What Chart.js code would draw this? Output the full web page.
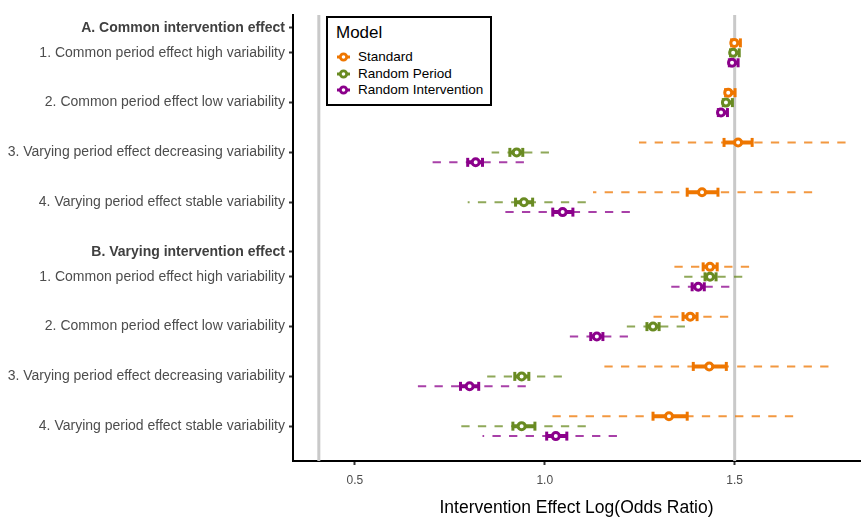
<!DOCTYPE html>
<html>
<head>
<meta charset="utf-8">
<script src="https://cdn.jsdelivr.net/npm/chart.js@4/dist/chart.umd.min.js"></script>
<style>
  body { margin: 0; background: #fff; }
  #wrap { position: relative; width: 861px; height: 519px; }
  #legend {
    position: absolute; left: 326px; top: 16px; width: 166px; height: 90px;
    box-sizing: border-box; border: 2px solid #000; background: #fff;
    font-family: 'Liberation Sans', Arial, sans-serif; color: #000;
  }
  #legend .title { position: absolute; left: 8px; top: 5px; font-size: 17px; }
  #legend .item { position: absolute; left: 7px; height: 14px; font-size: 13.5px; line-height: 14px; white-space: nowrap; }
  #legend svg { vertical-align: top; margin-right: 6px; }
</style>
</head>
<body>
<div id="wrap">
  <canvas id="chart" width="861" height="519"></canvas>
  <div id="legend"></div>
</div>
<script>
const FONT = "'Liberation Sans', Arial, sans-serif";

// y categories (headings are in bold)
const yLabels = [
  "A. Common intervention effect",
  "1. Common period effect high variability",
  "2. Common period effect low variability",
  "3. Varying period effect decreasing variability",
  "4. Varying period effect stable variability",
  "B. Varying intervention effect",
  "1. Common period effect high variability",
  "2. Common period effect low variability",
  "3. Varying period effect decreasing variability",
  "4. Varying period effect stable variability",
];
const headings = [0, 5];

const models = ["Standard", "Random Period", "Random Intervention"];
const modelColors = ["#EE7600", "#698B22", "#8B008B"];
const dashColors = ["rgba(238,118,0,0.75)", "rgba(105,139,34,0.75)", "rgba(139,0,139,0.75)"];

// one value per scenario row (A1..A4, B1..B4)
const standardEst     = [1.499, 1.483, 1.509, 1.414, 1.435, 1.383, 1.433, 1.327];
const standardInnerLo = [1.492, 1.476, 1.472, 1.375, 1.417, 1.364, 1.391, 1.285];
const standardInnerHi = [1.515, 1.501, 1.546, 1.456, 1.454, 1.401, 1.478, 1.375];
const standardOuterLo = [1.490, 1.474, 1.248, 1.127, 1.340, 1.285, 1.148, 1.011];
const standardOuterHi = [1.517, 1.503, 1.792, 1.704, 1.538, 1.483, 1.747, 1.654];

const periodEst     = [1.496, 1.477, 0.926, 0.945, 1.435, 1.285, 0.939, 0.939];
const periodInnerLo = [1.489, 1.470, 0.908, 0.923, 1.422, 1.269, 0.921, 0.916];
const periodInnerHi = [1.512, 1.494, 0.942, 0.968, 1.451, 1.301, 0.958, 0.974];
const periodOuterLo = [1.487, 1.468, 0.860, 0.797, 1.364, 1.216, 0.847, 0.776];
const periodOuterHi = [1.514, 1.496, 1.011, 1.108, 1.520, 1.369, 1.045, 1.108];

const interventionEst     = [1.493, 1.464, 0.818, 1.047, 1.404, 1.137, 0.802, 1.029];
const interventionInnerLo = [1.486, 1.457, 0.797, 1.021, 1.388, 1.121, 0.778, 1.005];
const interventionInnerHi = [1.509, 1.481, 0.836, 1.074, 1.420, 1.153, 0.826, 1.058];
const interventionOuterLo = [1.484, 1.455, 0.702, 0.892, 1.332, 1.066, 0.660, 0.836];
const interventionOuterHi = [1.511, 1.483, 0.945, 1.224, 1.486, 1.219, 0.950, 1.190];

const xTicks = [0.5, 1.0, 1.5];
const refLines = [0.405, 1.5];

const modelData = [
  { est: standardEst, innerLo: standardInnerLo, innerHi: standardInnerHi, outerLo: standardOuterLo, outerHi: standardOuterHi },
  { est: periodEst, innerLo: periodInnerLo, innerHi: periodInnerHi, outerLo: periodOuterLo, outerHi: periodOuterHi },
  { est: interventionEst, innerLo: interventionInnerLo, innerHi: interventionInnerHi, outerLo: interventionOuterLo, outerHi: interventionOuterHi },
];

// row positions: heading directly above its first item, items two units apart
const rowPos = [];
let p = 0;
yLabels.forEach((l, i) => {
  if (i > 0) p += (headings.includes(i) ? 2 : (headings.includes(i - 1) ? 1 : 2));
  rowPos.push(p);
});
const scenarioPos = rowPos.filter((v, i) => !headings.includes(i));
const headingPos = headings.map(i => rowPos[i]);
const labelAt = new Map(rowPos.map((v, i) => [v, yLabels[i]]));
const isHeading = (c) => !!(c && c.tick && headingPos.includes(c.tick.value));
const dodge = [-0.4, 0, 0.4];
const Y_MIN = -0.52, Y_MAX = 17.4;

const gap = { x: NaN, y: NaN };
const datasets = [];

refLines.forEach(v => {
  datasets.push({
    data: [{ x: v, y: Y_MIN }, { x: v, y: Y_MAX }],
    showLine: true, borderColor: "#c9c9c9", borderWidth: 3, pointRadius: 0, order: 10,
  });
});

modelData.forEach((d, m) => {
  const ys = scenarioPos.map(v => v + dodge[m]);
  datasets.push({
    label: models[m] + " outer",
    data: ys.flatMap((y, i) => [{ x: d.outerHi[i], y }, { x: d.outerLo[i], y }, gap]),
    showLine: true, borderColor: dashColors[m], borderWidth: 2, borderDash: [8.3, 8.3],
    borderCapStyle: "butt", pointRadius: 0, order: 5,
  });
  datasets.push({
    label: models[m] + " inner",
    data: ys.flatMap((y, i) => [{ x: d.innerLo[i], y }, { x: d.innerHi[i], y }, gap]),
    showLine: true, borderColor: modelColors[m], borderWidth: 4, borderCapStyle: "butt",
    pointStyle: "line", pointRotation: 90, pointRadius: 4.5, pointBorderWidth: 3,
    pointBorderColor: modelColors[m], order: 3,
  });
  datasets.push({
    label: models[m],
    data: ys.map((y, i) => ({ x: d.est[i], y })),
    pointRadius: 3.5, pointBorderWidth: 3, pointBorderColor: modelColors[m],
    pointBackgroundColor: "#fff", order: 1,
  });
});

new Chart(document.getElementById("chart"), {
  type: "scatter",
  data: { datasets },
  options: {
    responsive: false,
    animation: false,
    layout: { autoPadding: false, padding: { top: 15, right: 1, left: 0, bottom: 0 } },
    plugins: { legend: { display: false }, tooltip: { enabled: false } },
    scales: {
      x: {
        type: "linear", min: 0.337, max: 1.83,
        afterBuildTicks: (s) => { s.ticks = xTicks.map(v => ({ value: v })); },
        afterFit: (s) => { s.height = 58; s.paddingLeft = 0; s.paddingRight = 0; },
        border: { display: true, color: "#000", width: 2 },
        grid: { drawOnChartArea: false, drawTicks: true, tickLength: 4, tickColor: "#333", tickWidth: 2 },
        ticks: { color: "#4d4d4d", font: { family: FONT, size: 12 }, padding: 8, callback: (v) => v.toFixed(1) },
        title: { display: true, text: "Intervention Effect Log(Odds Ratio)", color: "#000",
                 font: { family: FONT, size: 17.5 }, padding: { top: 0, bottom: 0 } },
      },
      y: {
        type: "linear", reverse: true, min: Y_MIN, max: Y_MAX,
        afterBuildTicks: (s) => { s.ticks = rowPos.map(v => ({ value: v })); },
        afterFit: (s) => { s.width = 293; s.paddingTop = 0; s.paddingBottom = 0; },
        border: { display: true, color: "#000", width: 2 },
        grid: { drawOnChartArea: false, drawTicks: true, tickLength: 4, tickColor: "#333", tickWidth: 2 },
        ticks: {
          padding: 4,
          color: (c) => isHeading(c) ? "#404040" : "#4d4d4d",
          font: (c) => ({ family: FONT, size: 14, weight: isHeading(c) ? "bold" : "normal" }),
          callback: (v) => labelAt.get(v) || "",
        },
      },
    },
  },
});

// legend box
const legend = document.getElementById("legend");
legend.innerHTML = '<div class="title">Model</div>' + models.map((name, m) =>
  `<div class="item" style="top:${32 + m * 16.5}px">` +
  `<svg width="17" height="14"><line x1="2" y1="7" x2="15" y2="7" stroke="${modelColors[m]}" stroke-width="3"/>` +
  `<circle cx="8.5" cy="7" r="3.2" fill="#fff" stroke="${modelColors[m]}" stroke-width="2.8"/></svg>${name}</div>`
).join("");
</script>
</body>
</html>
